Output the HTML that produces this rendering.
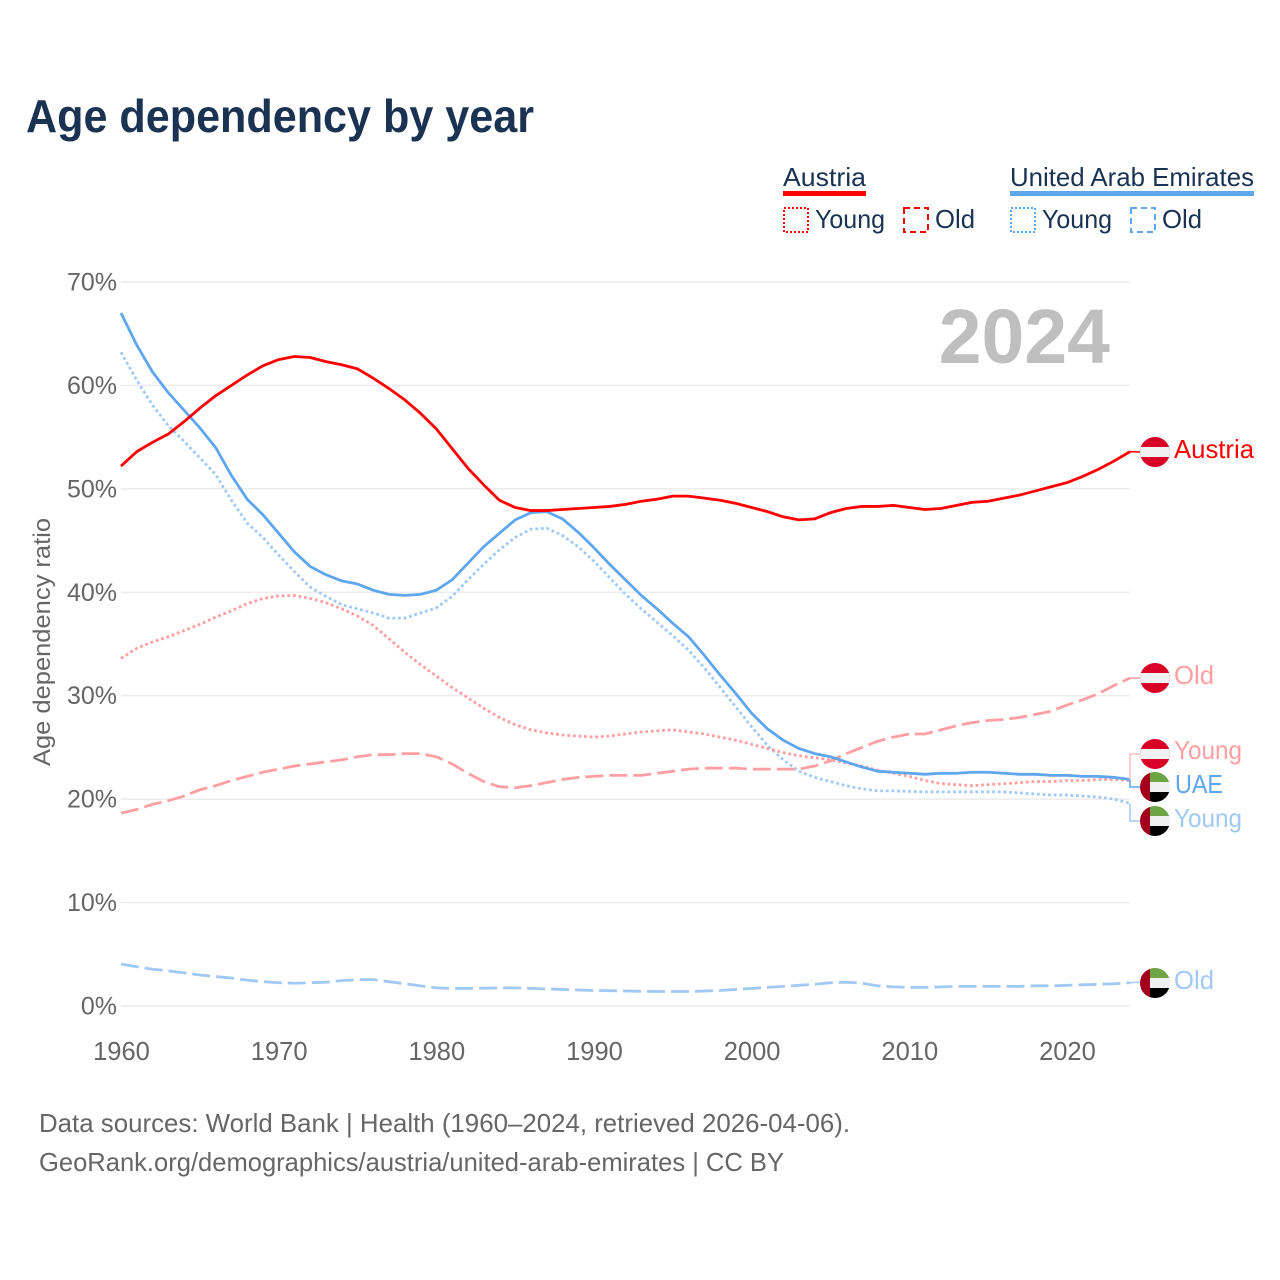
<!DOCTYPE html>
<html lang="en">
<head>
<meta charset="utf-8">
<title>Age dependency by year</title>
<style>
html,body{margin:0;padding:0;background:#fff;}
svg{display:block;font-family:"Liberation Sans",sans-serif;}
</style>
</head>
<body>
<svg id="chart" xmlns="http://www.w3.org/2000/svg" width="1280" height="1280" viewBox="0 0 1280 1280">
<defs>
<clipPath id="flag-clip"><circle cx="0" cy="0" r="15"/></clipPath>
<g id="flag-at" clip-path="url(#flag-clip)">
<rect x="-15" y="-15" width="30" height="30" fill="#d80027"/>
<rect x="-15" y="-5" width="30" height="10" fill="#f0f0f0"/>
</g>
<g id="flag-ae" clip-path="url(#flag-clip)">
<rect x="-15" y="-15" width="30" height="10" fill="#6da544"/>
<rect x="-15" y="-5" width="30" height="10" fill="#f0f0f0"/>
<rect x="-15" y="5" width="30" height="10" fill="#000"/>
<rect x="-15" y="-15" width="10" height="30" fill="#a2001d"/>
</g>
</defs>

<text x="26" y="132" font-size="46" font-weight="700" fill="#1a3353" textLength="508" lengthAdjust="spacingAndGlyphs">Age dependency by year</text>

<g font-size="26" fill="#1a3353">
  <text x="783" y="186" textLength="83" lengthAdjust="spacingAndGlyphs">Austria</text>
  <rect x="783" y="191" width="83" height="5" fill="#ff0000"/>
  <rect x="784" y="208" width="24" height="24" fill="none" stroke="#ff0000" stroke-width="2" stroke-dasharray="2 2"/>
  <text x="815" y="228" textLength="70" lengthAdjust="spacingAndGlyphs">Young</text>
  <rect x="904" y="208" width="24" height="24" fill="none" stroke="#ff0000" stroke-width="2" stroke-dasharray="6 4"/>
  <text x="935" y="228" textLength="40" lengthAdjust="spacingAndGlyphs">Old</text>

  <text x="1010" y="186" textLength="244" lengthAdjust="spacingAndGlyphs">United Arab Emirates</text>
  <rect x="1010" y="191" width="244" height="5" fill="#5ea6ee"/>
  <rect x="1011" y="208" width="24" height="24" fill="none" stroke="#5ea6ee" stroke-width="2" stroke-dasharray="2 2"/>
  <text x="1042" y="228" textLength="70" lengthAdjust="spacingAndGlyphs">Young</text>
  <rect x="1131" y="208" width="24" height="24" fill="none" stroke="#5ea6ee" stroke-width="2" stroke-dasharray="6 4"/>
  <text x="1162" y="228" textLength="40" lengthAdjust="spacingAndGlyphs">Old</text>
</g>

<g id="grid"></g>
<g id="yticks"></g>
<g id="xticks"></g>

<text transform="translate(50,642) rotate(-90)" text-anchor="middle" font-size="24" fill="#666" textLength="248" lengthAdjust="spacingAndGlyphs">Age dependency ratio</text>

<text x="1110" y="363" text-anchor="end" font-size="77" font-weight="700" fill="#bfbfbf">2024</text>

<g id="series"></g>
<g id="connectors"></g>

<g font-size="26">
  <use href="#flag-at" x="1155" y="452"/>
  <text x="1174" y="458" fill="#ff0000" textLength="80" lengthAdjust="spacingAndGlyphs">Austria</text>
  <use href="#flag-at" x="1155" y="678"/>
  <text x="1174" y="684" fill="#ff9fa1" textLength="40" lengthAdjust="spacingAndGlyphs">Old</text>
  <use href="#flag-at" x="1155" y="754"/>
  <text x="1174" y="759" fill="#ff9fa1" textLength="68" lengthAdjust="spacingAndGlyphs">Young</text>
  <use href="#flag-ae" x="1155" y="787"/>
  <text x="1175" y="793" fill="#5ea6ee" textLength="48" lengthAdjust="spacingAndGlyphs">UAE</text>
  <use href="#flag-ae" x="1155" y="821"/>
  <text x="1174" y="827" fill="#a0c9f4" textLength="68" lengthAdjust="spacingAndGlyphs">Young</text>
  <use href="#flag-ae" x="1155" y="983"/>
  <text x="1174" y="989" fill="#a0c9f4" textLength="40" lengthAdjust="spacingAndGlyphs">Old</text>
</g>

<g font-size="26" fill="#666">
  <text x="39" y="1132" textLength="811" lengthAdjust="spacingAndGlyphs">Data sources: World Bank | Health (1960–2024, retrieved 2026-04-06).</text>
  <text x="39" y="1171" textLength="745" lengthAdjust="spacingAndGlyphs">GeoRank.org/demographics/austria/united-arab-emirates | CC BY</text>
</g>
</svg>

<script>
var firstYear = 1960;
var lastYear = 2024;
var xTickYears = [1960, 1970, 1980, 1990, 2000, 2010, 2020];
var yTickValues = [0, 10, 20, 30, 40, 50, 60, 70];

var austriaTotal = [52.2,53.6,54.5,55.3,56.5,57.8,59,60,61,61.9,62.5,62.8,62.7,62.3,62,61.6,60.7,59.7,58.6,57.3,55.8,53.9,52,50.4,48.9,48.2,47.9,47.9,48,48.1,48.2,48.3,48.5,48.8,49,49.3,49.3,49.1,48.9,48.6,48.2,47.8,47.3,47,47.1,47.7,48.1,48.3,48.3,48.4,48.2,48,48.1,48.4,48.7,48.8,49.1,49.4,49.8,50.2,50.6,51.2,51.9,52.7,53.6];
var austriaYoung = [33.6,34.6,35.2,35.7,36.3,36.9,37.6,38.2,38.9,39.4,39.65,39.7,39.4,39,38.4,37.7,36.8,35.5,34.2,33,31.9,30.8,29.8,28.8,27.9,27.2,26.7,26.4,26.2,26.1,26,26.1,26.3,26.5,26.6,26.7,26.5,26.3,26,25.7,25.3,24.9,24.5,24.2,24,23.8,23.5,23.2,22.8,22.5,22.2,21.8,21.5,21.4,21.3,21.4,21.5,21.6,21.7,21.7,21.8,21.8,21.9,21.9,21.8];
var austriaOld = [18.65,19,19.5,19.85,20.3,20.9,21.3,21.8,22.2,22.6,22.9,23.2,23.4,23.6,23.8,24.1,24.3,24.3,24.4,24.4,24.1,23.4,22.5,21.7,21.2,21.1,21.3,21.6,21.9,22.1,22.2,22.3,22.3,22.3,22.5,22.7,22.9,23,23,23,22.9,22.9,22.9,22.9,23.2,23.7,24.4,25,25.6,26,26.3,26.3,26.7,27.1,27.4,27.6,27.7,27.9,28.2,28.5,29.1,29.6,30.2,31,31.7];
var uaeTotal = [67,63.9,61.3,59.3,57.6,55.9,54,51.3,49,47.5,45.7,43.9,42.5,41.7,41.1,40.8,40.2,39.8,39.7,39.8,40.2,41.2,42.8,44.4,45.7,47,47.7,47.8,47.1,45.8,44.3,42.7,41.2,39.7,38.4,37,35.7,33.9,32,30.2,28.3,26.8,25.7,24.9,24.4,24.1,23.6,23.1,22.7,22.6,22.5,22.4,22.5,22.5,22.6,22.6,22.5,22.4,22.4,22.3,22.3,22.2,22.2,22.1,21.9];
var uaeYoung = [63.2,60.5,58.1,56.1,54.6,53,51.4,48.9,46.7,45.3,43.6,42,40.5,39.6,38.8,38.4,38,37.5,37.5,38,38.5,39.6,41.2,42.7,44.1,45.3,46.1,46.2,45.5,44.4,43,41.4,39.8,38.4,37.1,35.8,34.4,32.7,30.8,28.9,27,25.2,23.8,22.7,22.1,21.7,21.3,21,20.8,20.8,20.75,20.7,20.7,20.7,20.7,20.7,20.7,20.6,20.5,20.4,20.4,20.3,20.2,20,19.6];
var uaeOld = [4.05,3.8,3.55,3.4,3.2,3,2.85,2.7,2.5,2.35,2.25,2.2,2.25,2.3,2.45,2.55,2.55,2.35,2.15,1.95,1.75,1.7,1.7,1.72,1.75,1.75,1.7,1.65,1.6,1.55,1.5,1.48,1.45,1.42,1.4,1.4,1.4,1.45,1.5,1.6,1.7,1.8,1.9,2,2.1,2.25,2.3,2.2,1.95,1.85,1.8,1.8,1.85,1.9,1.9,1.9,1.9,1.9,1.95,1.95,2,2.05,2.1,2.15,2.25];

var SVGNS = 'http://www.w3.org/2000/svg';
var plotLeft = 121, plotRight = 1130, plotZero = 1006, plotTop = 282, yMax = 70;

function xScale(year) {
  return plotLeft + (year - firstYear) * (plotRight - plotLeft) / (lastYear - firstYear);
}
function yScale(value) {
  return plotZero - value * (plotZero - plotTop) / yMax;
}
function make(tag) {
  return document.createElementNS(SVGNS, tag);
}
function linePath(values) {
  var d = '';
  for (var i = 0; i < values.length; i++) {
    d += (i ? 'L' : 'M') + xScale(firstYear + i).toFixed(2) + ' ' + yScale(values[i]).toFixed(2);
  }
  return d;
}

var gridGroup = document.getElementById('grid');
var yTickGroup = document.getElementById('yticks');
yTickValues.forEach(function (v) {
  var line = make('line');
  
  
  line.setAttribute('x1', plotLeft);
  line.setAttribute('x2', plotRight);
  line.setAttribute('y1', yScale(v));
  line.setAttribute('y2', yScale(v));
  line.setAttribute('stroke', '#ececec');
  line.setAttribute('stroke-width', '1.5');
  gridGroup.appendChild(line);

  var label = make('text');
  
  
  label.setAttribute('x', 117);
  label.setAttribute('y', yScale(v) + 8.5);
  label.setAttribute('text-anchor', 'end');
  label.setAttribute('font-size', '25');
  label.setAttribute('fill', '#666');
  label.textContent = v + '%';
  yTickGroup.appendChild(label);
});

var xTickGroup = document.getElementById('xticks');
xTickYears.forEach(function (year) {
  var label = make('text');
  
  
  label.setAttribute('x', xScale(year) + 0.5);
  label.setAttribute('y', 1060);
  label.setAttribute('text-anchor', 'middle');
  label.setAttribute('font-size', '25.5');
  label.setAttribute('fill', '#666');
  label.textContent = year;
  xTickGroup.appendChild(label);
});

var seriesGroup = document.getElementById('series');
function drawSeries(name, values, color, dash) {
  var path = make('path');
  
  
  path.setAttribute('d', linePath(values));
  path.setAttribute('fill', 'none');
  path.setAttribute('stroke', color);
  path.setAttribute('stroke-width', '2.8');
  path.setAttribute('stroke-linejoin', 'round');
  if (dash) path.setAttribute('stroke-dasharray', dash);
  seriesGroup.appendChild(path);
}
var dotted = '2.8 2.8';
var dashed = '18 6';
drawSeries('line-uae-old', uaeOld, '#a0c9f4', dashed);
drawSeries('line-uae-young', uaeYoung, '#a0c9f4', dotted);
drawSeries('line-austria-old', austriaOld, '#ff9fa1', dashed);
drawSeries('line-austria-young', austriaYoung, '#ff9fa1', dotted);
drawSeries('line-uae-total', uaeTotal, '#5ea6ee', '');
drawSeries('line-austria-total', austriaTotal, '#ff0000', '');

var connectorGroup = document.getElementById('connectors');
function drawConnector(name, values, labelY, color, elbow) {
  var endY = yScale(values[values.length - 1]);
  var path = make('path');
  
  
  var d = 'M' + plotRight + ' ' + endY.toFixed(2);
  d += elbow ? 'V' + labelY + 'H1140' : 'L1140 ' + labelY;
  path.setAttribute('d', d);
  path.setAttribute('fill', 'none');
  path.setAttribute('stroke', color);
  path.setAttribute('stroke-width', '1.5');
  connectorGroup.appendChild(path);
}
drawConnector('connector-austria', austriaTotal, 452, '#ff0000', false);
drawConnector('connector-austria-old', austriaOld, 678, '#ff9fa1', false);
drawConnector('connector-austria-young', austriaYoung, 754, '#ffbdbe', true);
drawConnector('connector-uae', uaeTotal, 787, '#5ea6ee', true);
drawConnector('connector-uae-young', uaeYoung, 821, '#a0c9f4', true);
drawConnector('connector-uae-old', uaeOld, 982, '#a0c9f4', false);
</script>
</body>
</html>
